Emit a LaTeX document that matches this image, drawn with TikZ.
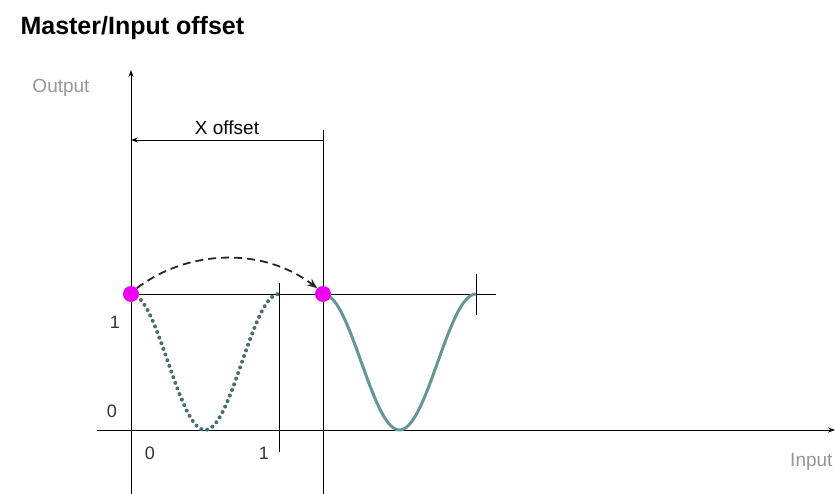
\documentclass[tikz,border=0pt]{standalone}
\usepackage{fontspec}
\setmainfont{Liberation Sans}
\usetikzlibrary{arrows.meta, positioning}
\definecolor{dotmagenta}{RGB}{240, 0, 240}
\definecolor{curveteal}{RGB}{100, 150, 150}
\definecolor{dottedteal}{RGB}{70, 110, 110}
\definecolor{labelgray}{RGB}{150, 150, 150}

\begin{document}
\begin{tikzpicture}[x=1pt, y=-1pt,
    axis/.style={line width=1pt, -{Stealth[length=7pt, width=5pt]}},
    thinline/.style={line width=0.9pt},
    magdot/.style={circle, fill=dotmagenta, inner sep=0pt, minimum size=16pt},
    ticklabel/.style={font=\fontsize{18}{18}\selectfont, text=black!80}]
        \useasboundingbox (0,0) rectangle (835,494);

        % Title
        \node[anchor=base west, font=\bfseries\fontsize{25}{25}\selectfont] (title) at (17,35) {Master/Input offset};

        % Axes
        \coordinate (yb) at (131,494);
        \coordinate (yt) at (131,70);
        \coordinate (xl) at (97,430);
        \coordinate (xr) at (835,430);
        \draw[axis] (yb) -- (yt);
        \draw[axis] (xl) -- (xr);
        \node[font=\fontsize{19}{19}\selectfont, text=labelgray] (outlab) at (61,88) {Output};
        \node[anchor=east, font=\fontsize{19}{19}\selectfont, text=labelgray] (inlab) at (836,462) {Input};

        % Offset guide lines
        \draw[thinline] (323,130) -- (323,494);
        \draw[thinline] (131,294) -- (496,294);
        \draw[thinline] (279,283) -- (279,452);
        \draw[thinline] (476,274) -- (476,315);
        \coordinate (xo1) at (131,140);
        \coordinate (xo2) at (323,140);
        \draw[thinline, {Stealth[length=7pt, width=5pt]}-] (xo1) -- node[above=2pt, font=\fontsize{19}{19}\selectfont] {X offset} (xo2);

        % Curves (master and shifted)
        \draw[dottedteal, line width=4pt, line cap=round, dash pattern=on 0pt off 6pt]
            plot[domain=0:1, samples=80] ({131+148*\x}, {294+136*(1-cos(360*\x))/2});
        \draw[curveteal, line width=3pt]
            plot[domain=0:1, samples=80] ({323+153*\x}, {294+136*(1-cos(360*\x))/2});

        % Tick labels
        \node[ticklabel] (y1) at (115,322) {1};
        \node[ticklabel] (y0) at (112,411) {0};
        \node[ticklabel] (x0) at (150,453) {0};
        \node[ticklabel] (x1) at (264,453) {1};

        % Start points
        \node[magdot] (m1) at (131,294) {};
        \node[magdot] (m2) at (323,294) {};
        \draw[line width=1.8pt, black!85, dash pattern=on 8pt off 5pt, -{Stealth[length=10pt, width=8pt]}]
            (m1.north east) .. controls (190,248) and (265,248) .. (m2.north west);
    \end{tikzpicture}
\end{document}
